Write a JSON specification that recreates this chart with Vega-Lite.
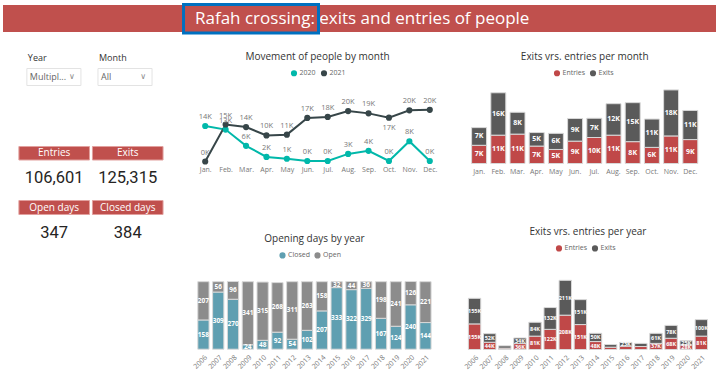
{
  "$schema": "https://vega.github.io/schema/vega-lite/v6.json",
  "padding": {"left": 3, "top": 2, "right": 0, "bottom": 0},
  "background": "white",
  "config": {
    "font": "Open Sans",
    "view": {"stroke": null},
    "title": {"font": "Open Sans", "fontSize": 10, "fontWeight": "normal", "color": "#333333"},
    "axis": {"domain": false, "ticks": false, "grid": false, "labelFont": "Open Sans", "labelFontSize": 7, "labelColor": "#777777", "labelPadding": 4},
    "legend": {"labelFont": "Open Sans", "labelFontSize": 7, "labelColor": "#666666", "symbolSize": 38, "symbolStrokeWidth": 0, "columnPadding": 4, "labelOffset": 2, "padding": 0, "rowPadding": 0}
  },
  "datasets": {
    "movement": [
      {"year": "2020", "month": "Jan.", "people": 14.0}, {"year": "2020", "month": "Feb.", "people": 12.6}, {"year": "2020", "month": "Mar.", "people": 6.2}, {"year": "2020", "month": "Apr.", "people": 1.8}, {"year": "2020", "month": "May", "people": 1.1}, {"year": "2020", "month": "Jun.", "people": 0.2}, {"year": "2020", "month": "Jul.", "people": 0.2}, {"year": "2020", "month": "Aug.", "people": 3.0}, {"year": "2020", "month": "Sep.", "people": 4.2}, {"year": "2020", "month": "Oct.", "people": 0.2}, {"year": "2020", "month": "Nov.", "people": 8.0}, {"year": "2020", "month": "Dec.", "people": 0.2},
      {"year": "2021", "month": "Jan.", "people": 0.0}, {"year": "2021", "month": "Feb.", "people": 14.6}, {"year": "2021", "month": "Mar.", "people": 13.6}, {"year": "2021", "month": "Apr.", "people": 10.3}, {"year": "2021", "month": "May", "people": 10.6}, {"year": "2021", "month": "Jun.", "people": 17.2}, {"year": "2021", "month": "Jul.", "people": 17.6}, {"year": "2021", "month": "Aug.", "people": 19.9}, {"year": "2021", "month": "Sep.", "people": 19.0}, {"year": "2021", "month": "Oct.", "people": 17.3}, {"year": "2021", "month": "Nov.", "people": 20.2}, {"year": "2021", "month": "Dec.", "people": 20.4}
    ],
    "monthly": [
      {"month": "Jan.", "type": "Entries", "people": 7.0}, {"month": "Jan.", "type": "Exits", "people": 6.8},
      {"month": "Feb.", "type": "Entries", "people": 10.9}, {"month": "Feb.", "type": "Exits", "people": 16.3},
      {"month": "Mar.", "type": "Entries", "people": 11.3}, {"month": "Mar.", "type": "Exits", "people": 8.4},
      {"month": "Apr.", "type": "Entries", "people": 6.7}, {"month": "Apr.", "type": "Exits", "people": 5.2},
      {"month": "May", "type": "Entries", "people": 5.4}, {"month": "May", "type": "Exits", "people": 6.2},
      {"month": "Jun.", "type": "Entries", "people": 8.6}, {"month": "Jun.", "type": "Exits", "people": 8.7},
      {"month": "Jul.", "type": "Entries", "people": 10.0}, {"month": "Jul.", "type": "Exits", "people": 7.4},
      {"month": "Aug.", "type": "Entries", "people": 10.9}, {"month": "Aug.", "type": "Exits", "people": 12.1},
      {"month": "Sep.", "type": "Entries", "people": 8.4}, {"month": "Sep.", "type": "Exits", "people": 15.0},
      {"month": "Oct.", "type": "Entries", "people": 6.2}, {"month": "Oct.", "type": "Exits", "people": 10.9},
      {"month": "Nov.", "type": "Entries", "people": 10.6}, {"month": "Nov.", "type": "Exits", "people": 17.7},
      {"month": "Dec.", "type": "Entries", "people": 9.2}, {"month": "Dec.", "type": "Exits", "people": 11.2}
    ],
    "days": [
      {"year": "2006", "status": "Closed", "days": 158}, {"year": "2006", "status": "Open", "days": 207},
      {"year": "2007", "status": "Closed", "days": 309}, {"year": "2007", "status": "Open", "days": 56},
      {"year": "2008", "status": "Closed", "days": 270}, {"year": "2008", "status": "Open", "days": 96},
      {"year": "2009", "status": "Closed", "days": 24}, {"year": "2009", "status": "Open", "days": 341},
      {"year": "2010", "status": "Closed", "days": 48}, {"year": "2010", "status": "Open", "days": 315},
      {"year": "2011", "status": "Closed", "days": 92}, {"year": "2011", "status": "Open", "days": 268},
      {"year": "2012", "status": "Closed", "days": 54}, {"year": "2012", "status": "Open", "days": 311},
      {"year": "2013", "status": "Closed", "days": 102}, {"year": "2013", "status": "Open", "days": 263},
      {"year": "2014", "status": "Closed", "days": 207}, {"year": "2014", "status": "Open", "days": 158},
      {"year": "2015", "status": "Closed", "days": 333}, {"year": "2015", "status": "Open", "days": 32},
      {"year": "2016", "status": "Closed", "days": 322}, {"year": "2016", "status": "Open", "days": 44},
      {"year": "2017", "status": "Closed", "days": 329}, {"year": "2017", "status": "Open", "days": 36},
      {"year": "2018", "status": "Closed", "days": 167}, {"year": "2018", "status": "Open", "days": 198},
      {"year": "2019", "status": "Closed", "days": 124}, {"year": "2019", "status": "Open", "days": 241},
      {"year": "2020", "status": "Closed", "days": 240}, {"year": "2020", "status": "Open", "days": 126},
      {"year": "2021", "status": "Closed", "days": 144}, {"year": "2021", "status": "Open", "days": 221}
    ],
    "yearly": [
      {"year": "2006", "type": "Entries", "people": 155}, {"year": "2006", "type": "Exits", "people": 155},
      {"year": "2007", "type": "Entries", "people": 44}, {"year": "2007", "type": "Exits", "people": 52},
      {"year": "2008", "type": "Entries", "people": 8}, {"year": "2008", "type": "Exits", "people": 14},
      {"year": "2009", "type": "Entries", "people": 36}, {"year": "2009", "type": "Exits", "people": 34},
      {"year": "2010", "type": "Entries", "people": 81}, {"year": "2010", "type": "Exits", "people": 84},
      {"year": "2011", "type": "Entries", "people": 122}, {"year": "2011", "type": "Exits", "people": 132},
      {"year": "2012", "type": "Entries", "people": 208}, {"year": "2012", "type": "Exits", "people": 211},
      {"year": "2013", "type": "Entries", "people": 151}, {"year": "2013", "type": "Exits", "people": 151},
      {"year": "2014", "type": "Entries", "people": 48}, {"year": "2014", "type": "Exits", "people": 50},
      {"year": "2015", "type": "Entries", "people": 14}, {"year": "2015", "type": "Exits", "people": 16},
      {"year": "2016", "type": "Entries", "people": 20}, {"year": "2016", "type": "Exits", "people": 23},
      {"year": "2017", "type": "Entries", "people": 18}, {"year": "2017", "type": "Exits", "people": 19},
      {"year": "2018", "type": "Entries", "people": 37}, {"year": "2018", "type": "Exits", "people": 61},
      {"year": "2019", "type": "Entries", "people": 68}, {"year": "2019", "type": "Exits", "people": 78},
      {"year": "2020", "type": "Entries", "people": 28}, {"year": "2020", "type": "Exits", "people": 25},
      {"year": "2021", "type": "Entries", "people": 81}, {"year": "2021", "type": "Exits", "people": 100}
    ],
    "slicers": [{"slicer": "Year", "selection": "Multipl..."}, {"slicer": "Month", "selection": "All"}],
    "kpi_people": [{"kpi": "Entries", "value": 106601}, {"kpi": "Exits", "value": 125315}],
    "kpi_days": [{"kpi": "Open days", "value": 347}, {"kpi": "Closed days", "value": 384}]
  },
  "resolve": {"scale": {"color": "independent"}, "legend": {"color": "independent"}},
  "spacing": 14.5,
  "vconcat": [
    {
      "width": 713,
      "height": 27,
      "data": {"values": [{"title": "Rafah crossing: exits and entries of people"}]},
      "layer": [
        {"mark": {"type": "rect", "color": "#c0504d"}, "encoding": {}},
        {
          "mark": {"type": "text", "color": "white", "fontSize": 17, "font": "Open Sans", "align": "left"},
          "encoding": {
            "x": {"datum": 0.2693, "type": "quantitative", "scale": {"domain": [0, 1]}, "axis": null},
            "text": {"field": "title"}
          }
        },
        {
          "mark": {"type": "rect", "filled": false, "stroke": "#0070c0", "strokeWidth": 3},
          "encoding": {
            "x": {"datum": 0.2532, "type": "quantitative", "axis": null},
            "x2": {"datum": 0.4425},
            "y": {"datum": 1.02, "type": "quantitative", "scale": {"domain": [0, 1]}, "axis": null},
            "y2": {"datum": -0.04}
          }
        }
      ]
    },
    {
      "spacing": 22,
      "resolve": {"scale": {"color": "independent"}, "legend": {"color": "independent"}},
      "hconcat": [
        {
          "bounds": "flush",
          "spacing": 2,
          "resolve": {"scale": {"color": "independent"}, "legend": {"color": "independent"}},
          "vconcat": [
            {
              "width": 166, "height": 16.5,
              "data": {"name": "slicers"},
              "mark": {"type": "text", "align": "left", "fontSize": 9, "color": "#333333", "dx": 1},
              "encoding": {
                "x": {"field": "slicer", "type": "nominal", "sort": null, "bandPosition": 0, "scale": {"type": "band", "paddingInner": 0.2397, "paddingOuter": 0.2869, "align": 0.5847}, "axis": null},
                "text": {"field": "slicer"}
              }
            },
            {
              "width": 166, "height": 17,
              "data": {"name": "slicers"},
              "encoding": {
                "x": {"field": "slicer", "type": "nominal", "sort": null, "scale": {"type": "band", "paddingInner": 0.2397, "paddingOuter": 0.2869, "align": 0.5847}, "axis": null}
              },
              "layer": [
                {"mark": {"type": "bar", "fill": "white", "stroke": "#e3e3e3", "strokeWidth": 1}},
                {"mark": {"type": "text", "align": "left", "fontSize": 9, "color": "#666666", "dx": 3}, "encoding": {"x": {"field": "slicer", "type": "nominal", "sort": null, "bandPosition": 0}, "text": {"field": "selection"}}},
                {"mark": {"type": "text", "align": "center", "fontSize": 8, "font": "DejaVu Sans", "color": "#8a8a8a", "dx": -9}, "encoding": {"x": {"field": "slicer", "type": "nominal", "sort": null, "bandPosition": 1}, "text": {"value": "∨"}}}
              ]
            },
            {
              "width": 10, "height": 57,
              "data": {"values": []},
              "mark": "point"
            },
            {
              "width": 166, "height": 13.5,
              "data": {"name": "kpi_people"},
              "encoding": {"x": {"field": "kpi", "type": "nominal", "sort": null, "scale": {"type": "band", "paddingInner": 0.0405, "paddingOuter": 0.1486, "align": 0.727}, "axis": null}},
              "layer": [
                {"mark": {"type": "bar", "color": "#c0504d", "stroke": "#e2a09e", "strokeWidth": 1}},
                {"mark": {"type": "text", "color": "white", "fontSize": 10}, "encoding": {"text": {"field": "kpi"}}}
              ]
            },
            {
              "width": 166, "height": 36,
              "data": {"name": "kpi_people"},
              "mark": {"type": "text", "font": "Roboto", "fontSize": 16.5, "color": "#252423", "dy": -2.5},
              "encoding": {
                "x": {"field": "kpi", "type": "nominal", "sort": null, "scale": {"type": "band", "paddingInner": 0.0405, "paddingOuter": 0.1486, "align": 0.727}, "axis": null},
                "text": {"field": "value", "type": "quantitative", "format": ",.0f"}
              }
            },
            {
              "width": 166, "height": 14,
              "data": {"name": "kpi_days"},
              "encoding": {"x": {"field": "kpi", "type": "nominal", "sort": null, "scale": {"type": "band", "paddingInner": 0.0405, "paddingOuter": 0.1486, "align": 0.727}, "axis": null}},
              "layer": [
                {"mark": {"type": "bar", "color": "#c0504d", "stroke": "#e2a09e", "strokeWidth": 1}},
                {"mark": {"type": "text", "color": "white", "fontSize": 10}, "encoding": {"text": {"field": "kpi"}}}
              ]
            },
            {
              "width": 166, "height": 35.5,
              "data": {"name": "kpi_days"},
              "mark": {"type": "text", "font": "Roboto", "fontSize": 16.5, "color": "#252423", "dy": -1.5},
              "encoding": {
                "x": {"field": "kpi", "type": "nominal", "sort": null, "scale": {"type": "band", "paddingInner": 0.0405, "paddingOuter": 0.1486, "align": 0.727}, "axis": null},
                "text": {"field": "value", "type": "quantitative", "format": ",.0f"}
              }
            }
          ]
        },
        {
          "spacing": 0,
          "resolve": {"scale": {"color": "independent"}, "legend": {"color": "independent"}},
          "vconcat": [
            {"width": 1, "height": 2, "data": {"values": []}, "mark": "point"},
            {
              "bounds": "flush",
              "spacing": 113.7,
              "resolve": {"scale": {"color": "independent"}, "legend": {"color": "independent"}},
              "vconcat": [
                {
                  "width": 245, "height": 76,
                  "title": {"text": "Movement of people by month", "frame": "group", "anchor": "middle", "offset": 8},
                  "data": {"name": "movement"},
                  "transform": [{"calculate": "format(datum.people, '.0f') + 'K'", "as": "label"}],
                  "encoding": {
                    "x": {"field": "month", "type": "ordinal", "scale": {"type": "point", "padding": 0.5, "domain": ["Jan.", "Feb.", "Mar.", "Apr.", "May", "Jun.", "Jul.", "Aug.", "Sep.", "Oct.", "Nov.", "Dec."]}, "axis": {"labelAngle": 0, "title": null}},
                    "y": {"field": "people", "type": "quantitative", "scale": {"domain": [0, 30]}, "axis": null}
                  },
                  "layer": [
                    {
                      "mark": {"type": "line", "strokeWidth": 2},
                      "encoding": {"stroke": {"field": "year", "type": "nominal", "scale": {"domain": ["2020", "2021"], "range": ["#01b8aa", "#374649"]}, "legend": null}}
                    },
                    {
                      "mark": {"type": "point", "filled": true, "size": 38, "opacity": 1},
                      "encoding": {"color": {"field": "year", "type": "nominal", "scale": {"domain": ["2020", "2021"], "range": ["#01b8aa", "#374649"]}, "legend": {"title": null, "orient": "none", "legendX": 95.5, "legendY": -16, "direction": "horizontal", "symbolType": "circle"}}}
                    },
                    {
                      "transform": [{"filter": "!(datum.year == '2021' && datum.month == 'Oct.')"}],
                      "mark": {"type": "text", "dy": -9, "fontSize": 7.5, "color": "#777777"},
                      "encoding": {"text": {"field": "label"}}
                    },
                    {
                      "transform": [{"filter": "datum.year == '2021' && datum.month == 'Oct.'"}],
                      "mark": {"type": "text", "dy": 10, "fontSize": 7.5, "color": "#777777"},
                      "encoding": {"text": {"field": "label"}}
                    }
                  ]
                },
                {
                  "width": 238.9, "height": 74,
                  "title": {"text": "Opening days by year", "frame": "group", "anchor": "middle", "offset": 8},
                  "data": {"name": "days"},
                  "transform": [
                    {"stack": "days", "groupby": ["year"], "sort": [{"field": "status", "order": "ascending"}], "as": ["d0", "d1"]},
                    {"calculate": "(datum.d0 + datum.d1) / 2", "as": "mid"}
                  ],
                  "encoding": {
                    "x": {"field": "year", "type": "ordinal", "scale": {"domain": ["2006","2007","2008","2009","2010","2011","2012","2013","2014","2015","2016","2017","2018","2019","2020","2021"], "paddingInner": 0.24, "paddingOuter": 0.19}, "axis": {"labelAngle": -45, "title": null}}
                  },
                  "layer": [
                    {
                      "mark": {"type": "bar", "stroke": "#d9d9d9", "strokeWidth": 1},
                      "encoding": {
                        "y": {"field": "d0", "type": "quantitative", "scale": {"domain": [0, 366]}, "axis": null},
                        "y2": {"field": "d1"},
                        "color": {"field": "status", "type": "nominal", "scale": {"domain": ["Closed", "Open"], "range": ["#5f9fb1", "#8c8c8c"]}, "legend": {"title": null, "orient": "none", "legendX": 84, "legendY": -23.5, "direction": "horizontal", "symbolType": "circle"}}
                      }
                    },
                    {
                      "mark": {"type": "text", "color": "white", "fontSize": 6.5, "fontWeight": "bold"},
                      "encoding": {"y": {"field": "mid", "type": "quantitative"}, "text": {"field": "days", "type": "quantitative"}}
                    }
                  ]
                }
              ]
            }
          ]
        },
        {
          "spacing": 0,
          "resolve": {"scale": {"color": "independent"}, "legend": {"color": "independent"}},
          "vconcat": [
            {"width": 1, "height": 2, "data": {"values": []}, "mark": "point"},
            {
              "bounds": "flush",
              "spacing": 111.7,
              "resolve": {"scale": {"color": "independent"}, "legend": {"color": "independent"}},
              "vconcat": [
                {
                  "width": 235.4, "height": 78,
                  "title": {"text": "Exits vrs. entries per month", "frame": "group", "anchor": "middle", "offset": 8},
                  "data": {"name": "monthly"},
                  "transform": [
                    {"stack": "people", "groupby": ["month"], "sort": [{"field": "type", "order": "ascending"}], "as": ["p0", "p1"]},
                    {"calculate": "(datum.p0 + datum.p1) / 2", "as": "mid"},
                    {"calculate": "format(datum.people, '.0f') + 'K'", "as": "label"}
                  ],
                  "encoding": {
                    "x": {"field": "month", "type": "ordinal", "scale": {"domain": ["Jan.", "Feb.", "Mar.", "Apr.", "May", "Jun.", "Jul.", "Aug.", "Sep.", "Oct.", "Nov.", "Dec."], "paddingInner": 0.22, "paddingOuter": 0.24}, "axis": {"labelAngle": 0, "title": null}}
                  },
                  "layer": [
                    {
                      "mark": {"type": "bar", "stroke": "#d9d9d9", "strokeWidth": 1},
                      "encoding": {
                        "y": {"field": "p0", "type": "quantitative", "scale": {"domain": [0, 30]}, "axis": null},
                        "y2": {"field": "p1"},
                        "color": {"field": "type", "type": "nominal", "scale": {"domain": ["Entries", "Exits"], "range": ["#c04848", "#5a5a5a"]}, "legend": {"title": null, "orient": "none", "legendX": 86.5, "legendY": -16, "direction": "horizontal", "symbolType": "circle"}}
                      }
                    },
                    {
                      "mark": {"type": "text", "color": "white", "fontSize": 7, "fontWeight": "bold"},
                      "encoding": {"y": {"field": "mid", "type": "quantitative"}, "text": {"field": "label"}}
                    }
                  ]
                },
                {
                  "width": 241.9, "height": 74.3,
                  "title": {"text": "Exits vrs. entries per year", "frame": "group", "anchor": "middle", "offset": 8},
                  "data": {"name": "yearly"},
                  "transform": [
                    {"stack": "people", "groupby": ["year"], "sort": [{"field": "type", "order": "ascending"}], "as": ["p0", "p1"]},
                    {"calculate": "(datum.p0 + datum.p1) / 2", "as": "mid"},
                    {"calculate": "format(datum.people, '.0f') + 'K'", "as": "label"}
                  ],
                  "encoding": {
                    "x": {"field": "year", "type": "ordinal", "scale": {"domain": ["2006","2007","2008","2009","2010","2011","2012","2013","2014","2015","2016","2017","2018","2019","2020","2021"], "paddingInner": 0.18, "paddingOuter": 0.09}, "axis": {"labelAngle": -45, "title": null}}
                  },
                  "layer": [
                    {
                      "mark": {"type": "bar", "stroke": "#d9d9d9", "strokeWidth": 1},
                      "encoding": {
                        "y": {"field": "p0", "type": "quantitative", "scale": {"domain": [0, 420]}, "axis": null},
                        "y2": {"field": "p1"},
                        "color": {"field": "type", "type": "nominal", "scale": {"domain": ["Entries", "Exits"], "range": ["#c04848", "#5a5a5a"]}, "legend": {"title": null, "orient": "none", "legendX": 88.5, "legendY": -30.5, "direction": "horizontal", "symbolType": "circle"}}
                      }
                    },
                    {
                      "transform": [{"filter": "datum.people >= 22"}],
                      "mark": {"type": "text", "color": "white", "fontSize": 5.5, "fontWeight": "bold"},
                      "encoding": {"y": {"field": "mid", "type": "quantitative"}, "text": {"field": "label"}}
                    }
                  ]
                }
              ]
            }
          ]
        }
      ]
    }
  ]
}
